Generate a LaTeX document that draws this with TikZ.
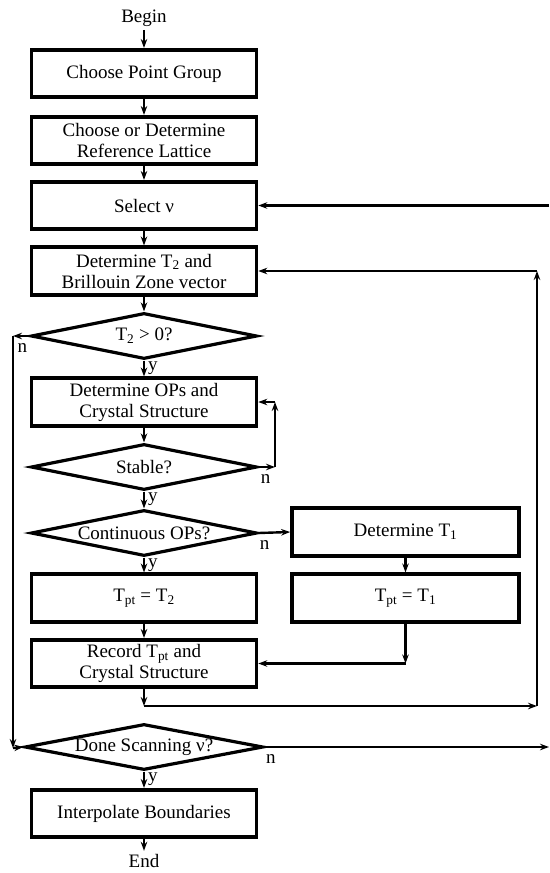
\documentclass[tikz,border=0pt]{standalone}
\usepackage{fontspec}
\setmainfont{Liberation Serif}
\usetikzlibrary{shapes.geometric,arrows.meta}
\begin{document}
\begin{tikzpicture}[x=1pt,y=-1pt,line join=miter,>={Stealth[length=9pt,width=6.5pt]},
    font=\fontsize{19}{21}\selectfont,
    box/.style={draw,line width=3.6pt,minimum width=225pt,minimum height=47.5pt,align=center,inner sep=0pt},
    dia/.style={draw,diamond,line width=3.2pt,minimum width=226pt,minimum height=46pt,aspect=6,inner sep=0pt},
    con/.style={->,line width=2.4pt},
    lbl/.style={inner sep=0pt}]
    \useasboundingbox (0,0) rectangle (549,873);
    % main column
    \node (begin) at (144,18) {Begin};
    \node[box] (pg) at (144,73.5) {Choose Point Group};
    \node[box] (rl) at (144,140.5) {Choose or Determine\\Reference Lattice};
    \node[box] (sel) at (144,205.5) {Select ν};
    \node[box] (dt) at (144,271) {Determine T\textsubscript{2} and\\Brillouin Zone vector};
    \node[dia] (tpos) at (144,336) {T\textsubscript{2} > 0?};
    \node[box] (ops) at (144,402) {Determine OPs and\\Crystal Structure};
    \node[dia] (stab) at (144,467) {Stable?};
    \node[dia] (cont) at (144,533) {Continuous OPs?};
    \node[box] (tpa) at (144,598) {T\textsubscript{pt} = T\textsubscript{2}};
    \node[box] (rec) at (144,663.5) {Record T\textsubscript{pt} and\\Crystal Structure};
    \node[dia] (done) at (144,747) {Done Scanning ν?};
    \node[box] (ip) at (144,813.5) {Interpolate Boundaries};
    \node (end) at (144,861) {End};
    % side column
    \node[box,minimum width=227pt] (dta) at (405.5,532) {Determine T\textsubscript{1}};
    \node[box,minimum width=227pt] (tpb) at (405.5,598) {T\textsubscript{pt} = T\textsubscript{1}};
    % corners
    \coordinate (sv) at (sel.east -| 549,0);
    \coordinate (nl1) at (13,336);
    \coordinate (nl2) at (13,748);
    \coordinate (sl1) at (275,467);
    \coordinate (sl2) at (sl1 |- ops.east);
    \coordinate (tc) at (tpb.south |- rec.east);
    \coordinate (rc1) at (144,706);
    \coordinate (rc2) at (537,706);
    \coordinate (rc3) at (rc2 |- dt.east);
    \coordinate (dn) at (done.east -| 549,0);
    % connectors
    \draw[con] (begin) -- (pg);
    \draw[con] (pg) -- (rl);
    \draw[con] (rl) -- (sel);
    \draw[con] (sel) -- (dt);
    \draw[con] (dt) -- (tpos);
    \draw[con] (tpos) -- (ops);
    \draw[con] (ops) -- (stab);
    \draw[con] (stab) -- (cont);
    \draw[con] (cont) -- (tpa);
    \draw[con] (tpa) -- (rec);
    \draw[con] (done) -- (ip);
    \draw[con] (ip) -- (end);
    \draw[con] (sv) -- (sel.east);
    \draw[con] (tpos.west) -- (nl1);
    \draw[con] (nl1) -- (nl2);
    \draw[con] (nl2) -- (done.west);
    \draw[con] (stab.east) -- (sl1);
    \draw[con] (sl1) -- (sl2);
    \draw[con] (sl2) -- (ops.east);
    \draw[con] (cont.east) -- (dta.west);
    \draw[con] (dta) -- (tpb);
    \draw[con] (tpb.south) -- (tc);
    \draw[con] (tc) -- (rec.east);
    \draw[con] (rec.south) -- (rc1);
    \draw[con] (rc1) -- (rc2);
    \draw[con] (rc2) -- (rc3);
    \draw[con] (rc3) -- (dt.east);
    \draw[con] (done.east) -- (dn);
    % y / n labels
    \node[lbl,anchor=north west] (y1) at ([xshift=4pt,yshift=-1pt]tpos.south) {y};
    \node[lbl,anchor=north west] (y2) at ([xshift=4pt,yshift=-1pt]stab.south) {y};
    \node[lbl,anchor=north west] (y3) at ([xshift=4pt,yshift=-1pt]cont.south) {y};
    \node[lbl,anchor=north west] (y4) at ([xshift=4pt,yshift=-1pt]done.south) {y};
    \node[lbl,anchor=north] (n1) at ([xshift=-7pt,yshift=-7pt]tpos.west) {n};
    \node[lbl,anchor=north] (n2) at ([xshift=7pt,yshift=-7pt]stab.east) {n};
    \node[lbl,anchor=north] (n3) at ([xshift=6pt,yshift=-7pt]cont.east) {n};
    \node[lbl,anchor=north] (n4) at ([xshift=6pt,yshift=-7pt]done.east) {n};
\end{tikzpicture}
\end{document}
